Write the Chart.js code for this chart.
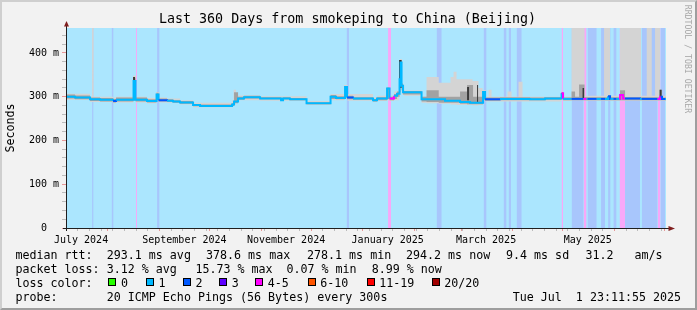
<!DOCTYPE html>
<html>
<head>
<meta charset="utf-8">
<script src="https://cdn.jsdelivr.net/npm/chart.js@4/dist/chart.umd.min.js"></script>
<style>
html,body{margin:0;padding:0;}
body{width:697px;height:310px;overflow:hidden;background:#f2f2f2;position:relative;font-family:"DejaVu Sans Mono",monospace;}
#frame{position:absolute;left:0;top:0;width:697px;height:310px;box-sizing:border-box;border:2px solid;border-color:#cfcfcf #9e9e9e #9e9e9e #cfcfcf;}
#chart{position:absolute;left:0;top:0;}
.t{position:absolute;white-space:pre;color:#000;font-family:"DejaVu Sans Mono",monospace;}
.lg{font-size:11.67px;line-height:14px;height:14px;}
.sw{position:absolute;width:6px;height:6px;border:1px solid #000;}
</style>
</head>
<body>
<div id="frame"></div>
<canvas id="chart" width="697" height="310"></canvas>
<div class="t" style="left:0;width:695px;top:11.4px;text-align:center;font-size:13.33px;line-height:16px;">Last 360 Days from smokeping to China (Beijing)</div>
<div class="t" style="left:-90.25px;top:121px;width:200px;height:14px;line-height:14px;font-size:11.67px;text-align:center;transform:rotate(-90deg);">Seconds</div>
<div class="t" style="left:627.5px;top:54px;width:120px;height:10px;line-height:10px;font-size:8.2px;text-align:center;color:#a8a8a8;transform:rotate(90deg);">RRDTOOL / TOBI OETIKER</div>

<div class="t lg" style="left:15.4px;top:247.5px">median rtt:</div>
<div class="t lg" style="left:106.7px;top:247.5px">293.1 ms avg</div>
<div class="t lg" style="left:206px;top:247.5px">378.6 ms max</div>
<div class="t lg" style="left:307px;top:247.5px">278.1 ms min</div>
<div class="t lg" style="left:406px;top:247.5px">294.2 ms now</div>
<div class="t lg" style="left:506px;top:247.5px">9.4 ms sd</div>
<div class="t lg" style="left:585.4px;top:247.5px">31.2</div>
<div class="t lg" style="left:634.4px;top:247.5px">am/s</div>

<div class="t lg" style="left:15.4px;top:261.5px">packet loss:</div>
<div class="t lg" style="left:106.7px;top:261.5px">3.12 % avg</div>
<div class="t lg" style="left:195.4px;top:261.5px">15.73 % max</div>
<div class="t lg" style="left:286.4px;top:261.5px">0.07 % min</div>
<div class="t lg" style="left:371.7px;top:261.5px">8.99 % now</div>

<div class="t lg" style="left:15.4px;top:275.5px">loss color:</div>
<div id="lossLegend"></div>

<div class="t lg" style="left:15.4px;top:289.5px">probe:</div>
<div class="t lg" style="left:106.7px;top:289.5px">20 ICMP Echo Pings (56 Bytes) every 300s</div>
<div class="t lg" style="left:512.7px;top:289.5px">Tue Jul  1 23:11:55 2025</div>

<script>
// ---------------- data (x = days since 2024-07-01 00:00) ----------------
const X_START = 5.966, X_END = 365.966, Y_MAX = 457;

const monthStarts = [31,62,92,123,153,184,215,243,274,304,335,365];
const weekLines = [13,20,27,34,41,48,55,69,76,83,90,97,104,111,118,125,132,139,146,160,167,174,181,188,195,202,209,216,223,230,237,244,251,258,265,272,279,286,293,300,307,314,321,328,342,349,356,363];
const labelDays = [15,77,138,199,258,319];
const labelTexts = ['July 2024','September 2024','November 2024','January 2025','March 2025','May 2025'];
const yGridValues = [0,20,40,60,80,100,120,140,160,180,200,220,240,260,280,300,320,340,360,380,400,420,440];
const yLabelValues = [0,100,200,300,400];

// loss background bands
const bandStart = [5.966, 21.6, 33.3, 48.0, 60.6, 174.3, 199.2, 228.3, 256.5, 268.5, 271.5, 276.3, 303.3, 309.3, 316.5, 318.9, 327.0, 331.2, 334.4, 338.1, 341.4, 351.4, 360.9, 362.7];
const bandEnd   = [365.966, 22.5, 34.5, 48.6, 62.1, 175.8, 201.0, 231.4, 258.3, 270.3, 273.0, 279.4, 304.2, 316.5, 318.3, 324.4, 329.4, 332.7, 336.3, 341.4, 350.4, 360.9, 362.7, 365.4];
const bandLevel = [1, 2, 2, 4, 2, 2, 4, 2, 2, 2, 2, 2, 4, 2, 4, 2, 2, 2, 2, 4, 2, 2, 4, 2];

// median rtt (ms); each value holds from its x until the next x
const medX = [5.97, 11.4, 17.4, 20.4, 26.4, 34.2, 36.0, 46.5, 47.7, 54.6, 60.3, 61.5, 66.6, 70.2, 74.4, 82.2, 86.4, 105.6, 106.8, 109.2, 112.8, 122.4, 135.0, 136.2, 140.4, 150.3, 164.7, 168.0, 173.4, 174.6, 178.2, 190.2, 192.6, 198.6, 200.1, 202.8, 204.6, 206.1, 206.7, 207.3, 208.2, 219.3, 233.4, 242.4, 248.4, 256.2, 257.4, 266.4, 284.4, 293.4, 303.3, 304.2, 309.3, 316.5, 318.3, 318.9, 324.4, 327.0, 329.4, 331.2, 332.4, 332.7, 334.4, 336.3, 338.1, 338.4, 340.2, 341.4, 350.4, 351.4, 360.9, 362.4, 362.7, 363.6, 365.4, 365.97];
const medY = [300, 298, 298, 294, 293, 290, 293, 336, 293, 290, 305, 292, 291, 289, 287, 281, 279, 282, 289, 296, 299, 296, 292, 296, 294, 285, 300, 297, 322, 298, 296, 292, 296, 319, 296, 302, 307, 340, 378, 325, 310, 294, 291, 288, 286, 311, 294, 295, 294, 296, 308, 295, 295, 295, 295, 295, 295, 295, 295, 301, 295, 295, 295, 295, 295, 304, 296, 296, 295, 295, 295, 300, 300, 295, 295, 295];

// smoke, outer (light) layer
const sX  = [5.97, 20.4, 21.6, 22.5, 34.2, 36.0, 46.2, 48.0, 54.6, 60.0, 61.8, 66.6, 74.4, 82.2, 105.6, 106.5, 108.0, 109.2, 122.4, 150.3, 164.7, 172.8, 174.9, 190.2, 192.6, 198.3, 200.1, 202.8, 205.8, 206.4, 207.6, 208.8, 219.3, 222.3, 229.6, 236.7, 238.5, 240.3, 249.9, 253.5, 255.9, 257.7, 259.5, 261.3, 270.9, 273.3, 277.5, 279.9, 303.0, 304.5, 309.3, 317.1, 328.8, 332.4, 338.4, 351.0, 354.4, 357.4, 359.4, 362.4, 365.97];
const sLo = [293, 288, 288, 288, 285, 287, 290, 287, 285, 290, 287, 286, 282, 276, 278, 283, 286, 292, 291, 281, 292, 295, 291, 288, 290, 292, 290, 292, 300, 330, 305, 302, 286, 285, 284, 282, 282, 281, 280, 281, 290, 289, 289, 289, 289, 289, 289, 289, 292, 290, 292, 291, 291, 291, 291, 291, 291, 291, 291, 291, 291];
const sHi = [307, 301, 470, 300, 298, 300, 348, 300, 297, 311, 298, 296, 292, 286, 292, 316, 302, 303, 301, 290, 306, 327, 306, 298, 302, 322, 302, 312, 350, 386, 328, 314, 300, 345, 332, 345, 357, 340, 336, 320, 315, 300, 316, 300, 312, 300, 334, 300, 310, 300, 470, 302, 470, 302, 470, 302, 470, 302, 470, 302, 302];

// smoke, inner (mid) layer
const iX  = [5.97, 11.4, 20.4, 26.4, 34.2, 36.0, 46.5, 47.7, 54.6, 60.3, 61.5, 66.6, 70.2, 74.4, 82.2, 86.4, 105.6, 106.8, 109.2, 112.8, 122.4, 135.0, 136.2, 140.4, 150.3, 164.7, 168.0, 173.4, 174.6, 178.2, 190.2, 192.6, 198.6, 200.1, 202.8, 204.6, 206.1, 206.7, 207.3, 208.2, 219.3, 222.3, 229.6, 242.4, 246.6, 250.2, 256.2, 257.4, 266.4, 284.4, 293.4, 303.3, 304.2, 309.3, 311.4, 313.8, 317.1, 331.2, 332.4, 338.4, 341.4, 362.4, 363.6, 365.97];
const iLo = [296, 294, 290, 289, 287, 289, 292, 289, 287, 292, 289, 288, 286, 284, 278, 277, 279, 285, 293, 296, 294, 290, 294, 292, 283, 295, 294, 298, 294, 293, 289, 292, 295, 292, 295, 300, 310, 340, 315, 305, 289, 288, 286, 284, 283, 283, 292, 291, 292, 292, 293, 294, 292, 292, 292, 292, 292, 292, 292, 292, 292, 292, 292, 292];
const iHi = [305, 303, 298, 297, 295, 298, 342, 298, 294, 309, 296, 294, 292, 290, 283, 282, 285, 310, 300, 302, 299, 295, 299, 297, 287, 304, 301, 324, 302, 299, 295, 299, 321, 300, 306, 312, 345, 384, 330, 313, 300, 315, 300, 312, 327, 300, 313, 298, 299, 298, 299, 310, 298, 312, 300, 328, 299, 303, 299, 315, 299, 316, 298, 298];

// smoke, core (dark) layer
const cX  = [5.97, 46.2, 47.4, 205.8, 207.3, 246.6, 247.8, 252.6, 253.2, 303.0, 304.2, 315.9, 316.8, 362.1, 363.3, 365.97];
const cLo = [300, 300, 300, 320, 300, 292, 300, 288, 300, 297, 300, 297, 300, 297, 300, 300];
const cHi = [300, 345, 300, 384, 300, 322, 300, 327, 300, 308, 300, 320, 300, 316, 300, 300];

// loss legend
const lossLabels = ['0','1','2','3','4-5','6-10','11-19','20/20'];
const lossColors = ['#26ff00','#00b8ff','#0059ff','#5e00ff','#ff00ff','#ff5500','#ff0000','#a10000'];
const lossBoxX = [108.3,145.7,182.7,219,255,307.5,366.5,431.5];

// ---------------- styling ----------------
const bgColor = {1:'rgb(171,230,254)', 2:'rgb(168,198,252)', 3:'rgb(202,171,255)', 4:'rgb(248,168,248)'};
const lineColor = {1:'#00b8ff', 2:'#0059ff', 3:'#5e00ff', 4:'#ff00ff'};
const MIN_GRID = 'rgba(143,143,143,0.55)';
const MAJ_GRID = 'rgba(222,79,79,0.55)';
const STEP = 'before'; // horizontal at the previous value, then vertical at the next x

// legend swatches
const ll = document.getElementById('lossLegend');
lossLabels.forEach((lab, i) => {
  const b = document.createElement('div');
  b.className = 'sw';
  b.style.left = lossBoxX[i] + 'px'; b.style.top = '277.5px'; b.style.background = lossColors[i];
  ll.appendChild(b);
  const t = document.createElement('div');
  t.className = 't lg';
  t.style.left = (lossBoxX[i] + 12.7) + 'px'; t.style.top = '275.5px';
  t.textContent = lab;
  ll.appendChild(t);
});

function levelAt(x) {
  for (let i = bandStart.length - 1; i >= 1; i--) {
    if (x >= bandStart[i] && x < bandEnd[i]) return bandLevel[i];
  }
  return bandLevel[0];
}

const datasets = [];
for (let i = 0; i < bandStart.length; i++) {
  datasets.push({
    data: [{x: bandStart[i], y: Y_MAX}, {x: bandEnd[i], y: Y_MAX}],
    backgroundColor: bgColor[bandLevel[i]], borderColor: 'transparent',
    borderWidth: 0, pointRadius: 0, fill: 'origin', order: i === 0 ? 100 : 90
  });
}
function addLayer(xs, lo, hi, color, order) {
  datasets.push({data: xs.map((x, i) => ({x, y: lo[i]})), borderWidth: 0, borderColor: 'transparent', pointRadius: 0, fill: false, stepped: STEP, order});
  datasets.push({data: xs.map((x, i) => ({x, y: hi[i]})), borderWidth: 0, borderColor: 'transparent', pointRadius: 0, fill: '-1', backgroundColor: color, stepped: STEP, order});
}
addLayer(sX, sLo, sHi, '#d4d4d4', 80);
addLayer(iX, iLo, iHi, '#a2a2a2', 70);
addLayer(cX, cLo, cHi, '#3a3a3a', 60);
datasets.push({
  data: medX.map((x, i) => ({x, y: medY[i]})),
  borderWidth: 2, pointRadius: 0, fill: false, stepped: STEP, order: 50,
  borderColor: lineColor[1],
  segment: {borderColor: c => lineColor[levelAt(c.p0.parsed.x)]}
});

const gridDays = monthStarts.concat(weekLines).filter(v => v > X_START && v < X_END).sort((a, b) => a - b);

const axesPlugin = {
  id: 'rrdAxes',
  afterDraw(chart) {
    const {ctx, chartArea: a} = chart;
    ctx.save();
    ctx.strokeStyle = '#1f1f1f'; ctx.lineWidth = 1;
    ctx.beginPath();
    ctx.moveTo(a.left + 0.5, a.bottom + 3); ctx.lineTo(a.left + 0.5, a.top - 3);
    ctx.moveTo(a.left - 3, a.bottom + 0.5); ctx.lineTo(a.right + 3, a.bottom + 0.5);
    ctx.stroke();
    ctx.fillStyle = '#801f1f';
    ctx.beginPath();
    ctx.moveTo(a.left + 0.5, a.top - 7); ctx.lineTo(a.left - 2, a.top - 1.5); ctx.lineTo(a.left + 3, a.top - 1.5); ctx.closePath(); ctx.fill();
    ctx.beginPath();
    ctx.moveTo(a.right + 9, a.bottom + 0.5); ctx.lineTo(a.right + 2.5, a.bottom - 2); ctx.lineTo(a.right + 2.5, a.bottom + 3); ctx.closePath(); ctx.fill();
    ctx.restore();
  }
};

Chart.defaults.font.family = '"DejaVu Sans Mono", monospace';
Chart.defaults.font.size = 10;
Chart.defaults.color = '#000';

new Chart(document.getElementById('chart'), {
  type: 'line',
  data: {datasets},
  options: {
    responsive: false, animation: false, events: [],
    layout: {padding: {left: 6, right: 31, top: 28, bottom: 59}},
    plugins: {legend: {display: false}, tooltip: {enabled: false}},
    scales: {
      x: {
        type: 'linear', min: X_START, max: X_END, position: 'bottom', weight: 0, z: 1,
        afterBuildTicks: s => { s.ticks = gridDays.map(v => ({value: v})); },
        afterFit: s => { s.height = 3; },
        ticks: {display: false, autoSkip: false},
        grid: {color: c => (c.tick && monthStarts.includes(c.tick.value)) ? MAJ_GRID : MIN_GRID, tickLength: 3, drawTicks: true, lineWidth: 1},
        border: {display: false, dash: [1, 2]}
      },
      xl: {
        type: 'linear', min: X_START, max: X_END, position: 'bottom', weight: 1,
        afterBuildTicks: s => { s.ticks = labelDays.map(v => ({value: v})); },
        afterFit: s => { s.height = 20; },
        grid: {display: false, drawTicks: false},
        border: {display: false},
        ticks: {autoSkip: false, maxRotation: 0, minRotation: 0, padding: 3, color: '#000',
                font: {size: 10}, callback: (v, i) => labelTexts[i]}
      },
      y: {
        type: 'linear', min: 0, max: Y_MAX, position: 'left', z: 1,
        afterBuildTicks: s => { s.ticks = yGridValues.map(v => ({value: v})); },
        afterFit: s => { s.width = 60; },
        ticks: {autoSkip: false, padding: 3, color: '#000', font: {size: 10},
                callback: v => yLabelValues.includes(v) ? (v === 0 ? '0  ' : v + ' m') : ''},
        grid: {color: c => (c.tick && yLabelValues.includes(c.tick.value)) ? MAJ_GRID : MIN_GRID, tickLength: 4, lineWidth: 1},
        border: {display: false, dash: [1, 2]}
      }
    }
  },
  plugins: [axesPlugin]
});
</script>
</body>
</html>
